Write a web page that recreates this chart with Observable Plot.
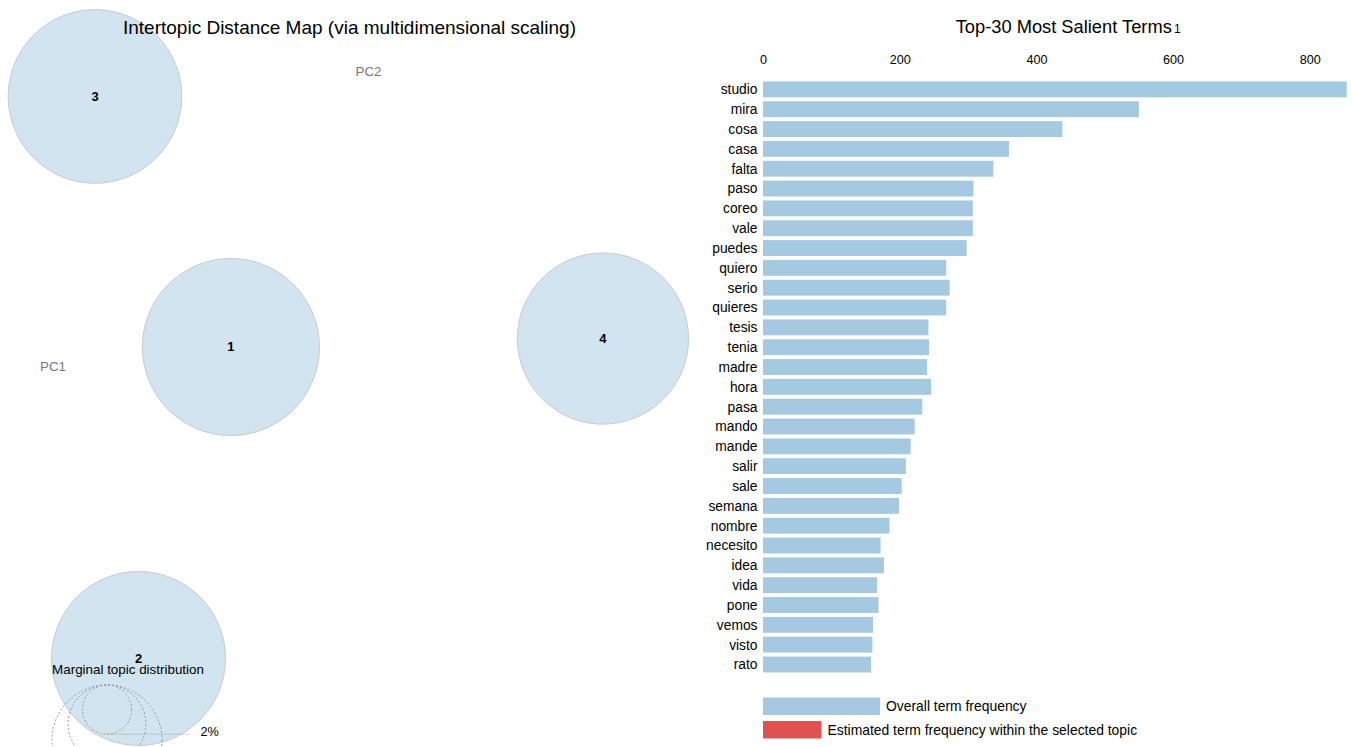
<!DOCTYPE html>
<html><head><meta charset="utf-8">
<script src="https://cdn.jsdelivr.net/npm/d3@7"></script>
<script src="https://cdn.jsdelivr.net/npm/@observablehq/plot@0.6"></script>
<style>
html,body{margin:0;padding:0;background:#fff;overflow:hidden}
#wrap{display:flex;width:1356px;height:747px;overflow:hidden;font-family:"Liberation Sans",Arial,sans-serif}
#wrap svg{display:block}
</style></head><body><div id="wrap"><div id="left"></div><div id="right"></div></div>
<script>
// ---- Data ----
const topicIds = [1, 2, 3, 4];
const topicPC1 = [-0.1025, -0.1817, -0.2190, 0.2164];
const topicPC2 = [0.0231, -0.2437, 0.2378, 0.0304];
const topicShare = [25.9, 25.0, 24.9, 24.2]; // marginal topic distribution (%)
const legendShares = [2, 5, 10];

const terms = ["studio","mira","cosa","casa","falta","paso","coreo","vale","puedes","quiero",
  "serio","quieres","tesis","tenia","madre","hora","pasa","mando","mande","salir",
  "sale","semana","nombre","necesito","idea","vida","pone","vemos","visto","rato"];
const termTotals = [854,550,438,360,337,308,307,307,298,268,
  273,268,242,243,240,246,233,222,216,209,
  203,199,185,172,177,167,169,161,160,158];
const xTicks = [0, 200, 400, 600, 800];

const leftTitle = "Intertopic Distance Map (via multidimensional scaling)";
const rightTitle = "Top-30 Most Salient Terms";
const legendLabels = ["Overall term frequency", "Estimated term frequency within the selected topic"];

const topics = topicIds.map((id, i) => ({id, pc1: topicPC1[i], pc2: topicPC2[i], share: topicShare[i]}));
const termData = terms.map((t, i) => ({term: t, total: termTotals[i]}));

const FONT = "Liberation Sans, Arial, sans-serif";
const BLUE = "#1f77b4", RED = "#d62728";

// ---- Left panel ----
function marginalLegend(index, scales, values, dimensions) {
  const g = d3.create("svg:g");
  const r = scales.r;
  const top = 685, cx = 107;
  const rLarge = r(legendShares[legendShares.length - 1]);
  const cx2 = cx + 1.5 * rLarge;
  g.append("text").attr("x", 128).attr("y", top - 11.5)
    .attr("text-anchor", "middle").attr("font-size", 13.4).attr("fill", "#000")
    .text("Marginal topic distribution");
  legendShares.forEach(s => {
    const rs = r(s);
    g.append("circle").attr("cx", cx).attr("cy", top + rs).attr("r", rs)
      .attr("fill", "none").attr("stroke", "#999").attr("stroke-dasharray", "2 2");
    g.append("line").attr("x1", cx).attr("x2", cx2)
      .attr("y1", top + 2 * rs).attr("y2", top + 2 * rs)
      .attr("stroke", "gray").attr("opacity", 0.3);
    // labels below the visible area are not drawn (they fall outside the panel)
    if (top + 2 * rs + 1.5 < dimensions.height - 2) {
      g.append("text").attr("x", cx2 + 11).attr("y", top + 2 * rs + 1.5)
        .attr("text-anchor", "start")
        .attr("font-size", 12.7).attr("fill", "#000").text(s + "%");
    }
  });
  return g.node();
}

const left = Plot.plot({
  width: 700, height: 747, margin: 0,
  style: {fontFamily: FONT, background: "#fff", overflow: "hidden"},
  x: {domain: [-0.3, 0.3], axis: null},
  y: {domain: [-0.32, 0.32], axis: null},
  r: {type: "sqrt", domain: [0, 25], range: [0, 87]},
  marks: [
    Plot.dot(topics, {x: "pc1", y: "pc2", r: "share", fill: BLUE, fillOpacity: 0.2, stroke: "#c6cbd0", strokeWidth: 1}),
    Plot.text(topics, {x: "pc1", y: "pc2", text: d => String(d.id), fontWeight: "bold", fontSize: 13, fill: "#000"}),
    Plot.text([leftTitle], {frameAnchor: "top-left", dx: 349, dy: 27, textAnchor: "middle", lineAnchor: "middle", fontSize: 19, fill: "#000"}),
    Plot.text(["PC2"], {frameAnchor: "top-left", dx: 368, dy: 71, textAnchor: "middle", lineAnchor: "middle", fontSize: 13.4, fill: "#777"}),
    Plot.text(["PC1"], {frameAnchor: "top-left", dx: 52.5, dy: 366, textAnchor: "middle", lineAnchor: "middle", fontSize: 13.4, fill: "#777"}),
    marginalLegend
  ]
});
document.getElementById("left").append(left);

// ---- Right panel ----
function barLegend(index, scales) {
  const g = d3.create("svg:g").attr("text-anchor", "start");
  const x0 = scales.x(0);
  const w = 117;
  g.append("rect").attr("x", x0).attr("y", 697.5).attr("width", w).attr("height", 17.5)
    .attr("fill", BLUE).attr("fill-opacity", 0.4);
  g.append("text").attr("x", x0 + w + 6).attr("y", 706.5).attr("dy", "0.35em")
    .attr("text-anchor", "start")
    .attr("font-size", 13.9).attr("fill", "#000").text(legendLabels[0]);
  g.append("rect").attr("x", x0).attr("y", 721).attr("width", w / 2).attr("height", 17.5)
    .attr("fill", RED).attr("fill-opacity", 0.8);
  g.append("text").attr("x", x0 + w / 2 + 6).attr("y", 730).attr("dy", "0.35em")
    .attr("text-anchor", "start")
    .attr("font-size", 13.9).attr("fill", "#000").text(legendLabels[1]);
  return g.node();
}

const right = Plot.plot({
  width: 656, height: 747,
  marginLeft: 63, marginRight: 9.3, marginTop: 77.5, marginBottom: 70.6,
  style: {fontFamily: FONT, background: "#fff", overflow: "visible"},
  x: {domain: [0, 854]},
  y: {domain: terms, padding: 0.2, round: false},
  marks: [
    Plot.barX(termData, {x: "total", y: "term", fill: BLUE, fillOpacity: 0.4}),
    Plot.axisX({anchor: "top", ticks: xTicks, tickSize: 0, tickPadding: 14, fontSize: 12.6, label: null, fill: "#000"}),
    Plot.axisY({anchor: "left", tickSize: 0, tickPadding: 6, fontSize: 13.8, label: null, fill: "#000"}),
    Plot.text([rightTitle], {frameAnchor: "top-left", dx: 192.2, dy: -50.5, textAnchor: "start", lineAnchor: "middle", fontSize: 18.3, fill: "#000"}),
    Plot.text(["1"], {frameAnchor: "top-left", dx: 410.5, dy: -48.5, textAnchor: "start", lineAnchor: "middle", fontSize: 12, fill: "#000"}),
    barLegend
  ]
});
document.getElementById("right").append(right);
</script>
</body></html>
